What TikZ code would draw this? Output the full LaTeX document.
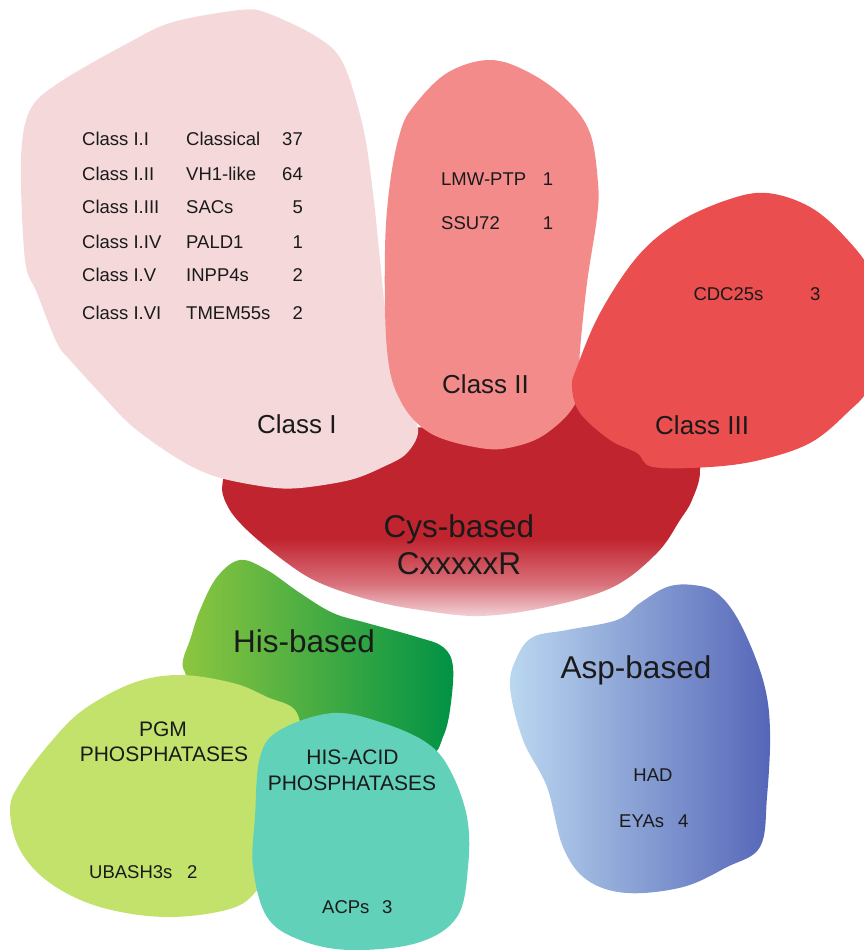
\documentclass[tikz,border=0pt]{standalone}
\usepackage{fontspec}
\setmainfont{Liberation Sans}
\definecolor{cOne}{HTML}{F5D9DA}
\definecolor{cTwo}{HTML}{F48B8B}
\definecolor{cThree}{HTML}{EA4E4E}
\definecolor{cysred}{HTML}{C0242F}
\definecolor{cyspale}{HTML}{F2D2D6}
\definecolor{cysmid}{HTML}{D9727C}
\definecolor{hisL}{HTML}{8DC63F}
\definecolor{hisR}{HTML}{009245}
\definecolor{pgm}{HTML}{C2E26B}
\definecolor{hisacid}{HTML}{62D1B9}
\definecolor{aspL}{HTML}{BBD8F0}
\definecolor{aspR}{HTML}{5566B8}
\definecolor{ink}{HTML}{1A1A1A}
\pgfdeclareverticalshading{cysshade}{100bp}{color(0bp)=(cyspale); color(25bp)=(cyspale); color(32bp)=(cysmid); color(42bp)=(cysred); color(100bp)=(cysred)}
\tikzset{
  lbl/.style={inner sep=0pt, text height=1.2em, text depth=0pt, text=ink},
  small/.style={lbl, font=\fontsize{18.5}{20}\selectfont},
  mid/.style={lbl, font=\fontsize{21}{24}\selectfont},
  big/.style={lbl, font=\fontsize{26}{30}\selectfont},
  huge/.style={lbl, font=\fontsize{31.5}{36}\selectfont},
}
\begin{document}
\begin{tikzpicture}[x=1pt,y=-1pt]
\useasboundingbox (0,0) rectangle (864,950);
\clip (0,0) rectangle (864,950);
% Cys-based
\shade[shading=cysshade] plot[smooth cycle, tension=0.6] coordinates {
 (240,430) (460,425) (575,388) (690,430) (700,470) (692,500) (680,520) (657,553) (613,587) (547,607) (480,616) (420,610) (370,600) (320,583) (287,563) (247,530) (227,505) (223,480)};
% Class I
\fill[cOne] plot[smooth cycle, tension=0.55] coordinates {
 (240,10) (267,13) (317,37) (343,63) (363,127) (373,193) (380,260) (387,327) (397,393) (418,428) (407,453) (383,467) (350,480) (300,488) (267,487) (217,477) (180,460) (133,427) (100,393) (70,360) (57,343) (37,293) (25,260) (21,160) (30,110) (60,82) (130,42) (173,22)};
% Class II
\fill[cTwo] plot[smooth cycle, tension=0.6] coordinates {
 (490,60) (530,73) (567,100) (590,133) (598,183) (597,217) (587,283) (580,350) (577,400) (547,433) (513,447) (480,448) (430,433) (400,400) (387,350) (385,250) (390,183) (400,133) (413,107) (447,73)};
% Class III
\fill[cThree] plot[smooth cycle, tension=0.6] coordinates {
 (767,193) (810,207) (845,237) (872,275) (880,330) (870,385) (847,413) (810,443) (760,460) (710,467) (653,467) (637,453) (610,440) (580,413) (572,387) (577,367) (600,313) (637,257) (677,223) (727,200)};
% His-based
\shade[left color=hisL, right color=hisR] plot[smooth cycle, tension=0.6] coordinates {
 (240,560) (267,570) (300,593) (333,613) (367,623) (417,637) (443,647) (453,667) (450,710) (443,737) (430,755) (380,760) (300,740) (200,690) (185,672) (183,660) (190,640) (200,610) (217,577)};
% PGM
\fill[pgm] plot[smooth cycle, tension=0.6] coordinates {
 (180,675) (233,683) (267,697) (297,713) (300,760) (292,850) (262,885) (233,908) (167,917) (100,907) (50,883) (20,850) (10,810) (20,783) (50,743) (83,710) (133,683)};
% HIS-ACID
\fill[hisacid] plot[smooth cycle, tension=0.6] coordinates {
 (333,713) (383,723) (427,743) (450,770) (467,817) (468,867) (457,917) (417,943) (350,950) (300,940) (267,917) (253,867) (255,817) (260,757) (280,730)};
% Asp-based
\shade[left color=aspL, right color=aspR] plot[smooth cycle, tension=0.6] coordinates {
 (693,585) (717,593) (740,623) (763,680) (770,730) (767,797) (760,847) (727,867) (683,887) (627,893) (587,880) (563,847) (547,787) (523,740) (510,687) (517,657) (533,637) (567,630) (617,620) (640,603) (667,587)};
% Class I texts
\node[small, anchor=west] (c11) at (82,139) {Class I.I};
\node[small, anchor=west] (c12) at (82,174.3) {Class I.II};
\node[small, anchor=west] (c13) at (82,207.7) {Class I.III};
\node[small, anchor=west] (c14) at (82,242.3) {Class I.IV};
\node[small, anchor=west] (c15) at (82,275.7) {Class I.V};
\node[small, anchor=west] (c16) at (82,313.3) {Class I.VI};
\node[small, anchor=west] (n11) at (186,139) {Classical};
\node[small, anchor=west] (n12) at (186,174.3) {VH1-like};
\node[small, anchor=west] (n13) at (186,207.7) {SACs};
\node[small, anchor=west] (n14) at (186,242.3) {PALD1};
\node[small, anchor=west] (n15) at (186,275.7) {INPP4s};
\node[small, anchor=west] (n16) at (186,313.3) {TMEM55s};
\node[small, anchor=east] (k11) at (303,139) {37};
\node[small, anchor=east] (k12) at (303,174.3) {64};
\node[small, anchor=east] (k13) at (303,207.7) {5};
\node[small, anchor=east] (k14) at (303,242.3) {1};
\node[small, anchor=east] (k15) at (303,275.7) {2};
\node[small, anchor=east] (k16) at (303,313.3) {2};
\node[big, anchor=west] (classI) at (257,427) {Class I};
% Class II texts
\node[small, anchor=west] (lmw) at (441,179.3) {LMW-PTP};
\node[small, anchor=west] (lmwn) at (542.7,179.3) {1};
\node[small, anchor=west] (ssu) at (441,223.3) {SSU72};
\node[small, anchor=west] (ssun) at (542.7,223.3) {1};
\node[big, anchor=west] (classII) at (442,387) {Class II};
% Class III texts
\node[small, anchor=west] (cdc) at (693.3,294.3) {CDC25s};
\node[small, anchor=west] (cdcn) at (810,294.3) {3};
\node[big, anchor=west] (classIII) at (655,428) {Class III};
% Cys
\node[huge] (cys1) at (459,531) {Cys-based};
\node[huge] (cys2) at (459,568) {CxxxxxR};
% His
\node[huge] (his) at (304,646) {His-based};
\node[mid] (pgm1) at (163,730) {PGM};
\node[mid] (pgm2) at (164,755) {PHOSPHATASES};
\node[small, anchor=west] (uba) at (89,872) {UBASH3s};
\node[small, anchor=west] (uban) at (187,872) {2};
\node[mid] (ha1) at (352.5,758) {HIS-ACID};
\node[mid] (ha2) at (352,784) {PHOSPHATASES};
\node[small, anchor=west] (acp) at (322,907) {ACPs};
\node[small, anchor=west] (acpn) at (382,907) {3};
% Asp
\node[huge] (asp) at (636,672) {Asp-based};
\node[small] (had) at (653,775) {HAD};
\node[small, anchor=west] (eya) at (619,821) {EYAs};
\node[small, anchor=west] (eyan) at (678,821) {4};
\end{tikzpicture}
\end{document}
